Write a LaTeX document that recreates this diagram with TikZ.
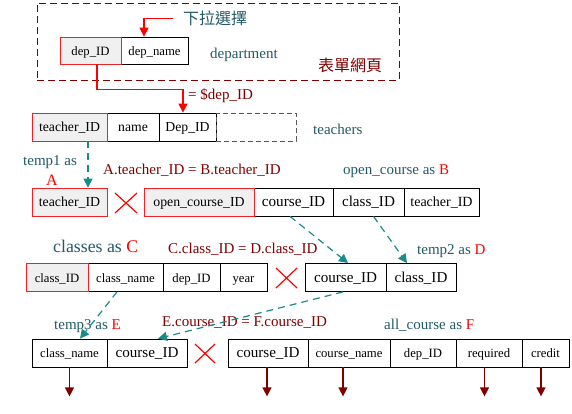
\documentclass[tikz,border=0pt]{standalone}
\usepackage{fontspec}
\setmainfont{Liberation Serif}
\newfontfamily\cjk{Noto Sans CJK TC}
\usetikzlibrary{arrows.meta}
\newcommand\fsz[1]{\fontsize{#1}{#1}\selectfont}
\definecolor{tealtext}{HTML}{215968}
\definecolor{tealarrow}{HTML}{1A8A8A}
\definecolor{dred}{HTML}{800000}
\definecolor{keyred}{HTML}{EE2222}
\definecolor{keyfill}{HTML}{F0F0F0}
\tikzset{
  cell/.style={draw=black, line width=0.8pt, inner sep=0pt, minimum height=28pt,
    text height=9pt, text depth=0pt, font=\fsz{12.7}},
  keycell/.style={cell, draw=keyred, fill=keyfill},
  lbl/.style={inner sep=0pt, anchor=base west, font=\fsz{15}},
  tlbl/.style={lbl, text=tealtext},
  rlbl/.style={lbl, text=dred},
  tarrow/.style={draw=tealarrow, line width=1.2pt, dash pattern=on 7pt off 5pt,
    -{Triangle[width=9pt,length=9pt]}},
  rarrow/.style={draw=red, line width=1.2pt, -{Triangle[width=9pt,length=9pt]}},
  darrow/.style={draw=dred, line width=1.2pt, -{Triangle[width=9pt,length=9pt]}},
  xmark/.style={draw=red, line width=1.2pt},
}
\begin{document}
\begin{tikzpicture}[x=1pt,y=-1pt]
\useasboundingbox (0,0) rectangle (572,413);
% frame
\node[draw=dred, line width=1pt, dash pattern=on 7pt off 4pt, minimum width=362pt, minimum height=77pt, inner sep=0pt] (frame) at (218,41.5) {};
\node[text=tealtext, inner sep=0pt, font=\cjk\fsz{16}] (sel) at (215,18.5) {下拉選擇};
\node[text=dred, inner sep=0pt, font=\cjk\fsz{16}] (form) at (350,65) {表單網頁};
\node[tlbl] (deptlbl) at (210,58) {department};
% department row
\node[cell, minimum width=67pt, minimum height=27pt] (depname) at (154.5,50.5) {dep\_name};
\node[keycell, minimum width=61pt, minimum height=27pt] (depid) at (90.5,50.5) {dep\_ID};
\draw[rarrow] ([xshift=-10pt]sel.west) -| ([xshift=-10.5pt]depname.north);
% teachers row
\node[cell, font=\fsz{13.7}, minimum width=52pt] (tname) at (133,127) {name};
\node[cell, font=\fsz{13.7}, minimum width=57pt] (tdep) at (187.5,127) {Dep\_ID};
\node[cell, draw=black!65, dash pattern=on 5pt off 3pt, minimum width=80pt] (tmore) at (256,127) {};
\node[keycell, font=\fsz{13.7}, minimum width=75pt] (tid) at (69.5,127) {teacher\_ID};
\node[tlbl] (teacherslbl) at (313,134) {teachers};
\node[rlbl] (eqdep) at (188,99) {= \$dep\_ID};
\draw[rarrow] ([xshift=6.5pt]depid.south) -- ++(0,25) -| ([xshift=-4.5pt]tdep.north);
% row 2
\node[keycell, font=\fsz{13.8}, minimum width=75pt] (aid) at (69.5,202) {teacher\_ID};
\node[cell, font=\fsz{15.2}, minimum width=79pt] (bcourse) at (293.5,202) {course\_ID};
\node[cell, font=\fsz{15.1}, minimum width=71pt] (bclass) at (368.5,202) {class\_ID};
\node[cell, font=\fsz{14}, minimum width=75pt] (bteacher) at (441.5,202) {teacher\_ID};
\node[keycell, font=\fsz{13.8}, minimum width=110pt] (bopen) at (199,202) {open\_course\_ID};
\node[tlbl] (temp1) at (23,165) {temp1 as};
\node[lbl, anchor=base, text=red, font=\fsz{16}] (alab) at (52,185) {A};
\node[rlbl] (abeq) at (103,174) {A.teacher\_ID = B.teacher\_ID};
\node[tlbl] (blab) at (343,174) {open\_course as \textcolor{red}{B}};
\draw[tarrow] ([xshift=18.5pt]tid.south) -- ([xshift=18.5pt]aid.north);
\draw[xmark] (115,193) -- (137,213) (115,213) -- (137,193);
% row 3
\node[cell, minimum width=75pt] (cname) at (125.5,277.5) {class\_name};
\node[cell, minimum width=57pt] (cdep) at (191.5,277.5) {dep\_ID};
\node[cell, minimum width=47pt] (cyear) at (243.5,277.5) {year};
\node[keycell, minimum width=62pt] (cclass) at (57,277.5) {class\_ID};
\node[cell, font=\fsz{15.1}, minimum width=81pt] (dcourse) at (345.5,277.5) {course\_ID};
\node[cell, font=\fsz{15.1}, minimum width=70pt] (dclass) at (421,277.5) {class\_ID};
\node[tlbl, font=\fsz{17.8}] (clab) at (53,252) {classes as \textcolor{red}{C}};
\node[rlbl] (cdeq) at (168,253) {C.class\_ID = D.class\_ID};
\node[tlbl] (dlab) at (417,254) {temp2 as \textcolor{red}{D}};
\draw[xmark] (276,268) -- (297,288) (276,288) -- (297,268);
\draw[tarrow] ([xshift=-3.5pt]bcourse.south) -- ([xshift=2.5pt]dcourse.north);
\draw[tarrow] ([xshift=5pt]bclass.south) -- ([xshift=-14pt]dclass.north);
% row 4
\node[cell, minimum width=75pt] (ename) at (69.5,353) {class\_name};
\node[cell, font=\fsz{15.1}, minimum width=80pt] (ecourse) at (147,353) {course\_ID};
\node[cell, font=\fsz{15.1}, minimum width=80pt] (fcourse) at (268,353) {course\_ID};
\node[cell, minimum width=82pt] (fname) at (349,353) {course\_name};
\node[cell, minimum width=66pt] (fdep) at (423,353) {dep\_ID};
\node[cell, minimum width=66pt] (freq) at (489,353) {required};
\node[cell, minimum width=47pt] (fcredit) at (545.5,353) {credit};
\node[tlbl] (elab) at (54,329) {temp3 as \textcolor{red}{E}};
\node[rlbl] (efeq) at (162,326) {E.course\_ID = F.course\_ID};
\node[tlbl] (flab) at (384,329) {all\_course as \textcolor{red}{F}};
\draw[xmark] (195,344) -- (215,363) (195,363) -- (215,344);
\draw[tarrow] ([xshift=-8.5pt]cname.south) -- ([xshift=10.5pt]ename.north);
\draw[tarrow] ([xshift=-2.5pt]dcourse.south) -- ([xshift=11pt]ecourse.north);
% output arrows
\draw[darrow] (ename.south) -- ++(0,29);
\draw[darrow] ([xshift=-1pt]fcourse.south) -- ++(0,29);
\draw[darrow] ([xshift=-6pt]fname.south) -- ++(0,29);
\draw[darrow] ([xshift=-4.5pt]freq.south) -- ++(0,29);
\draw[darrow] ([xshift=-4.5pt]fcredit.south) -- ++(0,29);
\end{tikzpicture}
\end{document}
